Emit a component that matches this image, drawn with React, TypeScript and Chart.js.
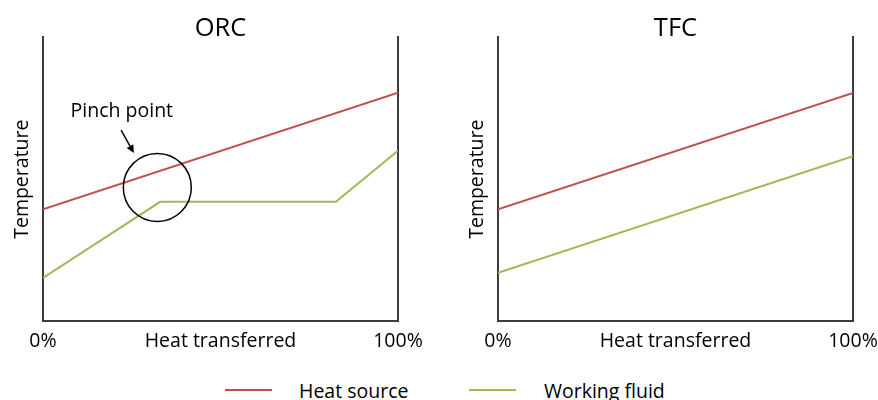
import React, { useEffect, useRef } from 'react';
import { Chart, registerables } from 'chart.js';

Chart.register(...registerables);

// ---- data ----
const xTickValues = [0, 50, 100];
const xTickLabels = ['0%', 'Heat transferred', '100%'];

const orcSourceX = [0, 100];
const orcSourceT = [39.4, 80.5];
const orcFluidX = [0, 33, 82.5, 100];
const orcFluidT = [15.2, 42.0, 42.0, 60.0];

const tfcSourceX = [0, 100];
const tfcSourceT = [39.4, 80.4];
const tfcFluidX = [0, 100];
const tfcFluidT = [17.0, 58.1];

const pinchCenter = [32.2, 47.1];
const pinchLabelPos = [22.2, 71.8];
const pinchArrowFrom = [22.0, 67.3];
const pinchArrowTo = [25.6, 59.2];

const seriesNames = ['Heat source', 'Working fluid'];
const seriesColors = ['#C0504D', '#9BBB59'];

const FONT = 'Open Sans';
const TEXT_SIZE = 19.5;
const AXIS_COLOR = '#3c3c3c';

const toPoints = (xs: number[], ys: number[]) => xs.map((x, i) => ({ x, y: ys[i] }));

const pinchPlugin = {
  id: 'pinchAnnotation',
  afterDatasetsDraw(chart: any) {
    const { ctx, scales } = chart;
    const x = scales.x;
    const y = scales.y;
    ctx.save();
    ctx.strokeStyle = '#000';
    ctx.fillStyle = '#000';
    ctx.lineWidth = 1.5;
    ctx.beginPath();
    ctx.arc(x.getPixelForValue(pinchCenter[0]), y.getPixelForValue(pinchCenter[1]), 34, 0, Math.PI * 2);
    ctx.stroke();
    const x1 = x.getPixelForValue(pinchArrowFrom[0]);
    const y1 = y.getPixelForValue(pinchArrowFrom[1]);
    const x2 = x.getPixelForValue(pinchArrowTo[0]);
    const y2 = y.getPixelForValue(pinchArrowTo[1]);
    const ang = Math.atan2(y2 - y1, x2 - x1);
    const head = 8;
    const hx = x2 - head * Math.cos(ang);
    const hy = y2 - head * Math.sin(ang);
    ctx.beginPath();
    ctx.moveTo(x1, y1);
    ctx.lineTo(hx, hy);
    ctx.stroke();
    ctx.beginPath();
    ctx.moveTo(x2, y2);
    ctx.lineTo(hx + 3.8 * Math.cos(ang + Math.PI / 2), hy + 3.8 * Math.sin(ang + Math.PI / 2));
    ctx.lineTo(hx + 3.8 * Math.cos(ang - Math.PI / 2), hy + 3.8 * Math.sin(ang - Math.PI / 2));
    ctx.closePath();
    ctx.fill();
    ctx.font = `${TEXT_SIZE}px "${FONT}"`;
    ctx.textAlign = 'center';
    ctx.textBaseline = 'alphabetic';
    ctx.fillText('Pinch point', x.getPixelForValue(pinchLabelPos[0]), y.getPixelForValue(pinchLabelPos[1]));
    ctx.restore();
  },
};

function makeConfig(
  title: string,
  sx: number[], st: number[], fx: number[], ft: number[],
  leftW: number, rightW: number, yTitlePad: number,
  extraPlugins: any[]
): any {
  const border = { display: true, color: AXIS_COLOR, width: 2 };
  return {
    type: 'line',
    data: {
      datasets: [
        { label: seriesNames[0], data: toPoints(sx, st), borderColor: seriesColors[0], borderWidth: 2, pointRadius: 0, tension: 0, fill: false },
        { label: seriesNames[1], data: toPoints(fx, ft), borderColor: seriesColors[1], borderWidth: 2, pointRadius: 0, tension: 0, fill: false },
      ],
    },
    options: {
      responsive: false,
      animation: false,
      devicePixelRatio: 1,
      layout: { padding: 0 },
      events: [],
      plugins: {
        legend: { display: false },
        tooltip: { enabled: false },
        title: {
          display: true,
          text: title,
          color: '#000',
          fullSize: false,
          font: { family: FONT, size: 25.5, weight: 'normal', lineHeight: 0.68 },
          padding: { top: 20, bottom: 0 },
        },
      },
      scales: {
        x: {
          type: 'linear',
          min: 0,
          max: 100,
          grid: { display: true, drawOnChartArea: false, drawTicks: true, tickLength: 9, color: 'rgba(0,0,0,0)' },
          border,
          afterBuildTicks: (s: any) => { s.ticks = xTickValues.map((v) => ({ value: v })); },
          afterFit: (s: any) => { s.height = 39; },
          ticks: {
            padding: 0,
            color: '#000',
            autoSkip: false,
            maxRotation: 0,
            font: { family: FONT, size: TEXT_SIZE },
            callback: (_v: any, i: number) => xTickLabels[i],
          },
        },
        y: {
          type: 'linear',
          position: 'left',
          min: 0,
          max: 100,
          grid: { display: false, drawTicks: false },
          border,
          ticks: { display: false },
          afterFit: (s: any) => { s.width = leftW; },
          title: {
            display: true,
            text: 'Temperature',
            color: '#000',
            font: { family: FONT, size: TEXT_SIZE },
            padding: { top: yTitlePad, bottom: 0 },
          },
        },
        yRight: {
          type: 'linear',
          position: 'right',
          min: 0,
          max: 100,
          grid: { display: false, drawTicks: false },
          border,
          ticks: { display: false },
          afterFit: (s: any) => { s.width = rightW; },
        },
      },
    },
    plugins: extraPlugins,
  };
}

export default function App() {
  const refA = useRef<HTMLCanvasElement>(null);
  const refB = useRef<HTMLCanvasElement>(null);

  useEffect(() => {
    const a = new Chart(refA.current as HTMLCanvasElement,
      makeConfig('ORC', orcSourceX, orcSourceT, orcFluidX, orcFluidT, 43, 42, 10.5, [pinchPlugin]));
    const b = new Chart(refB.current as HTMLCanvasElement,
      makeConfig('TFC', tfcSourceX, tfcSourceT, tfcFluidX, tfcFluidT, 58, 25, 26, []));
    return () => { a.destroy(); b.destroy(); };
  }, []);

  const legendText: React.CSSProperties = {
    position: 'absolute',
    top: 380,
    fontFamily: FONT,
    fontSize: TEXT_SIZE,
    lineHeight: '22px',
    color: '#000',
    whiteSpace: 'nowrap',
  };

  return (
    <div style={{ position: 'absolute', left: 0, top: 0, width: 878, height: 400, background: '#fff', overflow: 'hidden' }}>
      <canvas ref={refA} width={440} height={360} style={{ position: 'absolute', left: 0, top: 0, width: 440, height: 360 }} />
      <canvas ref={refB} width={438} height={360} style={{ position: 'absolute', left: 440, top: 0, width: 438, height: 360 }} />
      <div style={{ position: 'absolute', left: 225, top: 389, width: 47, height: 2, background: seriesColors[0] }} />
      <div style={{ ...legendText, left: 299 }}>{seriesNames[0]}</div>
      <div style={{ position: 'absolute', left: 469, top: 389, width: 47, height: 2, background: seriesColors[1] }} />
      <div style={{ ...legendText, left: 544 }}>{seriesNames[1]}</div>
    </div>
  );
}
